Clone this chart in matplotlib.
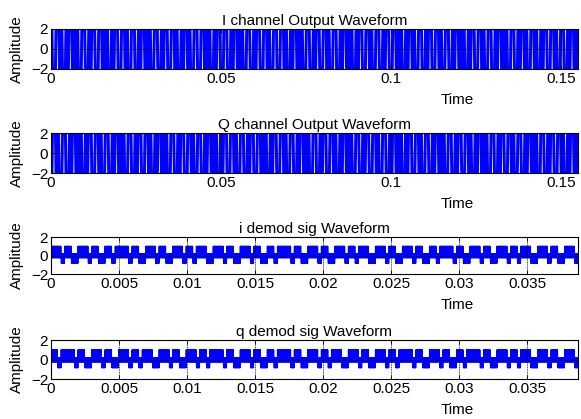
import matplotlib.pyplot as plt
import numpy as np

plt.rcParams['font.family'] = ['Liberation Sans', 'DejaVu Sans']

# transmitted symbols (1 / 0) for the I and Q channels
i_bits = ("1011001110100101110010110100111010010110011010111001010011101001"
          "0110101100111010010110100111001011010010111001101001011010011100"
          "10110100111010011011001011010011")
q_bits = ("0110100111001011010011101001011001110100101101001110010110100101"
          "1100101101001110100101100111010010110100111001011010011101001011"
          "00111010010110100111010010110011")
# demodulated symbol levels (1 -> +1, 0 -> -1), in groups of four symbols
i_demod = ["1110", "1100", "1110", "1100", "1101", "1110", "1100", "1110",
           "1100", "1110", "1101", "1100", "1110", "1100", "1110", "1100",
           "1101", "1110", "1100", "1110", "1100", "1110", "1101", "1100",
           "1110", "1100", "1110", "1100", "1101", "1110", "1100", "1110",
           "1100", "1110", "1101", "1100", "1110", "1100", "1110"]
q_demod = ["1101", "1110", "1100", "1110", "1100", "1110", "1101", "1100",
           "1110", "1100", "1110", "1101", "1110", "1100", "1110", "1100",
           "1101", "1110", "1100", "1110", "1101", "1100", "1110", "1100",
           "1110", "1101", "1110", "1100", "1110", "1100", "1101", "1110",
           "1100", "1110", "1101", "1100", "1110", "1100", "1110"]

t_end_tx = 0.155
t_end_rx = t_end_tx / 4


def bpsk(bits, t_end, spb=6):
    y = []
    prev = None
    for c in bits:
        b = 1 if c == "1" else -1
        if prev is not None and b != prev:
            y.append(y[-1])  # phase jump leaves a short flat stretch
        for j in range(spb):
            y.append(2.0 * b * (1 if j % 2 == 0 else -1))
        prev = b
    y = np.array(y)
    t = np.linspace(0, t_end, len(y))
    return t, y


def demod(groups, t_end, spb=24):
    b = np.array([1 if c == "1" else -1 for c in "".join(groups)])
    s = np.repeat(b, spb)
    n = np.arange(len(s))
    hi = np.where(s > 0, 1.0, 0.2)
    lo = np.where(s > 0, -0.25, -0.85)
    y = np.where(n % 2 == 0, hi, lo)
    t = np.linspace(0, t_end, len(s))
    return t, y


W, H = 581, 419
fig = plt.figure(figsize=(W / 100, H / 100), dpi=100)

# (top, bottom) in pixels for each panel
boxes = [(29, 69), (133, 173), (237, 274), (340, 379)]
titles = ["I channel Output Waveform", "Q channel Output Waveform",
          "i demod sig Waveform", "q demod sig Waveform"]
series = [bpsk(i_bits, t_end_tx), bpsk(q_bits, t_end_tx),
          demod(i_demod, t_end_rx), demod(q_demod, t_end_rx)]
xticks_tx = [0, 0.05, 0.1, 0.15]
xticks_rx = [0, 0.005, 0.01, 0.015, 0.02, 0.025, 0.03, 0.035]

left, right = 51, 578
for k, ((top, bot), title, (t, y)) in enumerate(zip(boxes, titles, series)):
    ax = fig.add_axes([left / W, 1 - bot / H, (right - left) / W, (bot - top) / H])
    ax.plot(t, y, color="#0000ff", lw=0.7)
    ax.set_ylim(-2, 2)
    ax.set_yticks([-2, 0, 2])
    if k < 2:
        ax.set_xlim(0, t_end_tx)
        ax.set_xticks(xticks_tx)
        ax.set_xticklabels(["0", "0.05", "0.1", "0.15"])
    else:
        ax.set_xlim(0, t_end_rx)
        ax.set_xticks(xticks_rx)
        ax.set_xticklabels(["0", "0.005", "0.01", "0.015", "0.02", "0.025", "0.03", "0.035"])
    ax.grid(True, color="k", lw=0.6, ls=(0, (1, 1)))
    ax.set_axisbelow(False)
    ax.tick_params(direction="in", length=3, width=0.6, top=True, right=True,
                   labelsize=11, pad=2)
    for sp in ax.spines.values():
        sp.set_linewidth(0.8)
    h = bot - top
    ax.set_title(title, fontsize=11, pad=3)
    ax.set_xlabel("Time", fontsize=11)
    ax.xaxis.set_label_coords(0.77, -24 / h)
    ax.set_ylabel("Amplitude", fontsize=11)
    ax.yaxis.set_label_coords((24 - left) / (right - left), 0.5)

fig.savefig("out.png", dpi=100)
